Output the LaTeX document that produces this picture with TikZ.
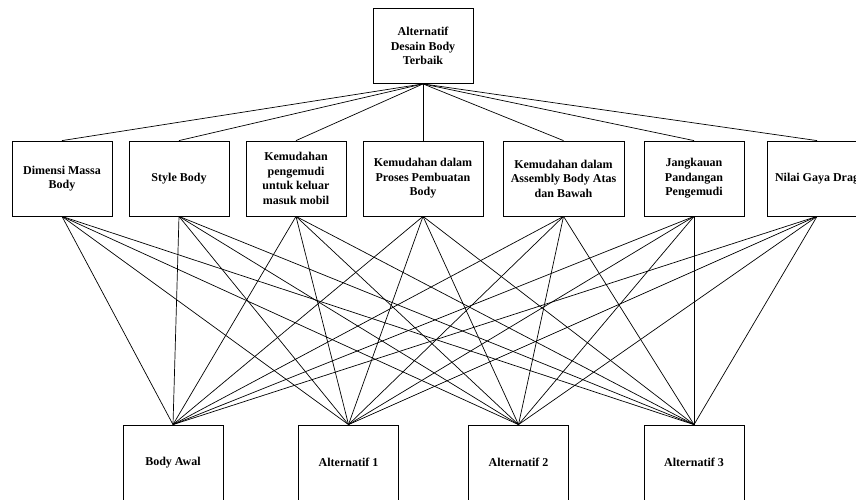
\documentclass[tikz,border=0pt]{standalone}
\usepackage{fontspec}
\setmainfont{Liberation Serif}
\tikzstyle{kotak} = [rectangle, minimum width=100pt, minimum height=75pt, draw=black, line width=0.8pt, align=center, font=\bfseries\fontsize{12}{14.5}\selectfont]
\tikzstyle{garis} = [draw, line width=0.7pt]

\begin{document}
\begin{tikzpicture}[x=1pt,y=-1pt]
        \useasboundingbox (0,0) rectangle (856,500);

        \node (T) [kotak] at (423,46) {Alternatif \\ Desain Body \\ Terbaik};

        \node (K1) [kotak] at (62,178.5) {Dimensi Massa \\ Body};
        \node (K2) [kotak] at (179,178.5) {Style Body};
        \node (K3) [kotak] at (296,178.5) {Kemudahan \\ pengemudi \\ untuk keluar \\ masuk mobil};
        \node (K4) [kotak, minimum width=120pt] at (423,178.5) {Kemudahan dalam \\ Proses Pembuatan \\ Body};
        \node (K5) [kotak, minimum width=121pt] at (563.5,178.5) {Kemudahan dalam \\ Assembly Body Atas \\ dan Bawah};
        \node (K6) [kotak] at (694,178.5) {Jangkauan \\ Pandangan \\ Pengemudi};
        \node (K7) [kotak] at (817,178.5) {Nilai Gaya Drag};

        \node (A1) [kotak] at (173,462.5) {Body Awal};
        \node (A2) [kotak] at (348.5,462.5) {Alternatif 1};
        \node (A3) [kotak] at (518.5,462.5) {Alternatif 2};
        \node (A4) [kotak] at (694,462.5) {Alternatif 3};

        % garis ke kriteria
        \foreach \k in {1,...,7}
            \draw[garis] (T.south) -- (K\k.north);

        % garis ke alternatif
        \foreach \k in {1,...,7}
            \foreach \a in {1,...,4}
                \draw[garis] (K\k.south) -- (A\a.north);

    \end{tikzpicture}
\end{document}
